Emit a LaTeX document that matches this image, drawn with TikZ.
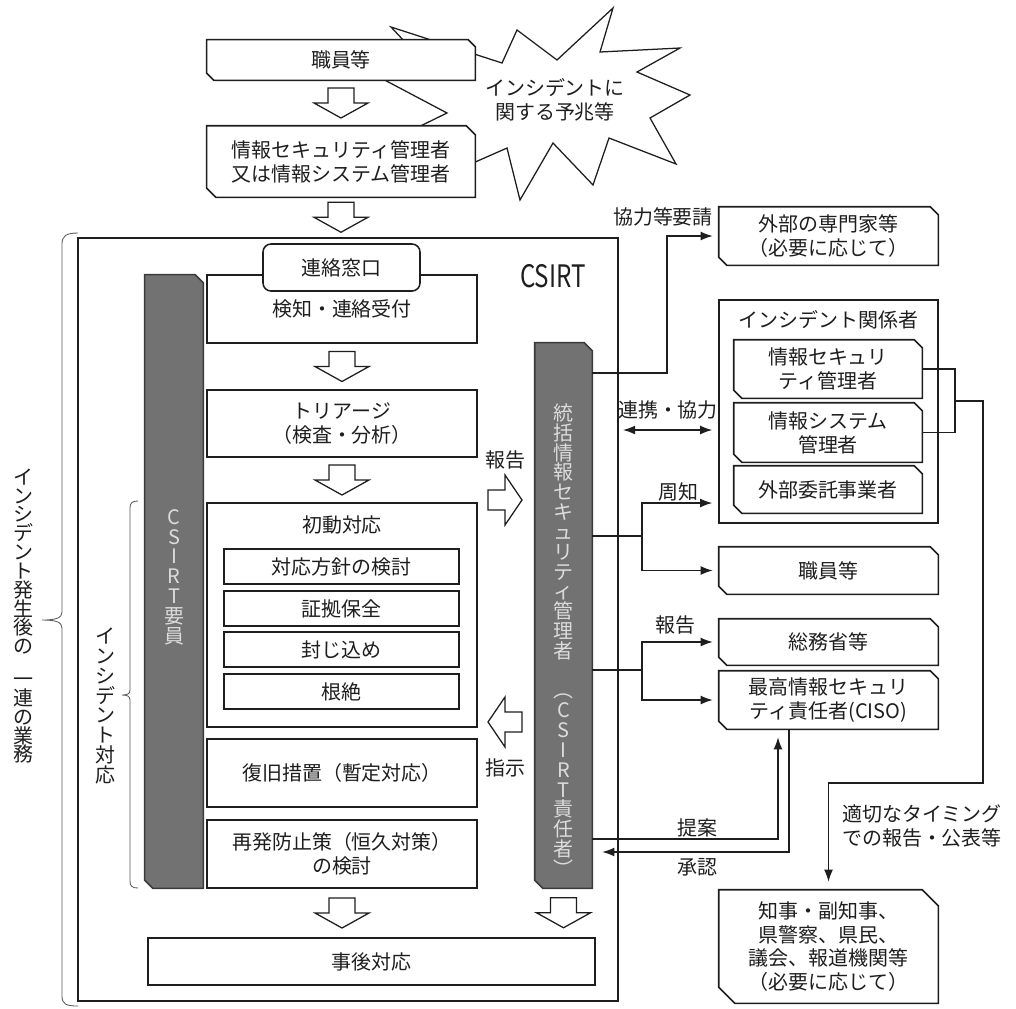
\documentclass[tikz,border=0pt]{standalone}
\usepackage{fontspec}
\setmainfont{Noto Sans CJK JP}
\usepackage{graphicx}
\usetikzlibrary{arrows.meta,calc}
\pgfdeclarelayer{paper}
\pgfdeclarelayer{back}
\pgfdeclarelayer{mid}
\pgfsetlayers{paper,back,mid,main}
\definecolor{barfill}{HTML}{727272}
\definecolor{barline}{HTML}{3A3A3A}
\definecolor{bartext}{HTML}{DCDCDC}
\definecolor{ink}{HTML}{1E1E1E}
\newcommand\chbox[3][fill=white]{%
  \begin{pgfonlayer}{mid}
  \draw[bxline,#1] (#2.north west) -- ([xshift=-#3]#2.north east) -- ([yshift=-#3]#2.north east)
     -- (#2.south east) -- ([xshift=#3]#2.south west) -- ([yshift=#3]#2.south west) -- cycle;
  \end{pgfonlayer}}
\begin{document}
\begin{tikzpicture}[x=0.25mm,y=-0.25mm,
  bxline/.style={draw=ink, line width=1.1pt},
  txt/.style={inner sep=0pt, align=center, text=ink, font=\fontsize{14.2}{17}\selectfont},
  cbox/.style={txt},
  rbox/.style={txt, draw=ink, line width=1.1pt, fill=white},
  vtxt/.style={inner sep=0pt, align=center, font=\fontsize{14.2}{14.1}\selectfont},
  vtxtb/.style={inner sep=0pt, align=center, text=ink, font=\fontsize{14.2}{13.4}\selectfont},
  conn/.style={draw=ink, line width=0.8pt, >={Latex[length=3mm,width=2.2mm]}},
  blk/.style={draw=ink, line width=0.9pt, fill=white, line join=miter},
  brace/.style={draw=black!65, line width=0.6pt},
  dnblk/.pic={\draw[blk] (-13,-15) -- (13,-15) -- (13,0) -- (27,0) -- (0,15) -- (-27,0) -- (-13,0) -- cycle;},
  rtblk/.pic={\draw[blk] (-17,-10) -- (0,-10) -- (0,-25) -- (17,0) -- (0,25) -- (0,10) -- (-17,10) -- cycle;},
  ltblk/.pic={\draw[blk] (17,-10) -- (0,-10) -- (0,-25) -- (-17,0) -- (0,25) -- (0,10) -- (17,10) -- cycle;}
]
\useasboundingbox (0,0) rectangle (1016,1008);
\begin{pgfonlayer}{paper}
\fill[white] (0,0) rectangle (1016,1008);
\end{pgfonlayer}

% starburst
\begin{pgfonlayer}{back}
\draw[bxline, line width=0.9pt, fill=white, line join=miter]
  (391,27) -- (502,63) -- (517,30) -- (557,60) -- (613,8) -- (600,52) -- (680,48) -- (637,72)
  -- (690,95) -- (650,118) -- (676,164) -- (609,138) -- (593,185) -- (553,143) -- (520,200)
  -- (507,148) -- (430,182) -- (465,140) -- (400,136) -- (447,113) -- (360,67) -- (420,58) -- cycle;
\end{pgfonlayer}
\node[txt] (burst) at (555,100) {インシデントに\\関する予兆等};

% top boxes
\node[cbox, minimum width=67mm, minimum height=10mm] (b1) at (341,60) {職員等};
\chbox{b1}{1.75mm}
\node[cbox, minimum width=67mm, minimum height=17.75mm] (b2) at (341,161.5) {情報セキュリティ管理者\\又は情報システム管理者};
\chbox{b2}{2.25mm}
\pic at ($(b1.south)!0.5!(b2.north)$) {dnblk};

% CSIRT frame
\node[draw=ink, line width=1.1pt, inner sep=0pt, minimum width=135mm, minimum height=190.75mm] (csirt) at (348,619.5) {};
\pic at ($(b2.south)!0.5!(b2.south |- csirt.north)$) {dnblk};
\node[txt, font=\fontsize{22}{22}\selectfont] (csirtT) at (553,276) {\scalebox{0.78}[1]{CSIRT}};

% left bar
\node[cbox, minimum width=14.5mm, minimum height=153.25mm] (lbar) at (174,581.5) {};
\chbox[fill=barfill,draw=barline]{lbar}{2mm}
\node[vtxt, text=bartext] (lbarT) at (174,577) {C\\S\\I\\R\\T\\要\\員};

% process column
\node[rbox, minimum width=67.5mm, minimum height=17mm] (kenchi) at (342,309) {検知・連絡受付};
\node[rbox, rounded corners=2mm, minimum width=39.25mm, minimum height=11.75mm] (mado) at (341.5,267.5) {連絡窓口};
\node[rbox, minimum width=67.5mm, minimum height=16.75mm] (tri) at (342,423.5) {トリアージ\\（検査・分析）};
\pic at ($(kenchi.south)!0.5!(tri.north)$) {dnblk};
\node[rbox, minimum width=67.5mm, minimum height=56mm] (shodo) at (342,615) {};
\pic at ($(tri.south)!0.5!(shodo.north)$) {dnblk};
\node[txt] (shodoT) at (342,525) {初動対応};
\node[rbox, minimum width=58.75mm, minimum height=8.75mm] (s1) at (341.5,566.5) {対応方針の検討};
\node[rbox, minimum width=58.75mm, minimum height=8.75mm] (s2) at (341.5,608.5) {証拠保全};
\node[rbox, minimum width=58.75mm, minimum height=8.75mm] (s3) at (341.5,649.5) {封じ込め};
\node[rbox, minimum width=58.75mm, minimum height=8.75mm] (s4) at (341.5,691.5) {根絶};
\node[rbox, minimum width=67.5mm, minimum height=17mm] (fukkyu) at (342,773) {復旧措置（暫定対応）};
\node[rbox, minimum width=67.5mm, minimum height=17mm] (saihatsu) at (342,854) {再発防止策（恒久対策）\\の検討};
\node[rbox, minimum width=111.75mm, minimum height=11.75mm] (jigo) at (371.5,961.5) {事後対応};

% right bar
\node[cbox, minimum width=14.25mm, minimum height=136.25mm] (rbar) at (563.5,615.5) {};
\chbox[fill=barfill,draw=barline]{rbar}{2mm}
\node[vtxt, text=bartext] (rbarT) at (563.5,640) {統\\括\\情\\報\\セ\\キ\\ュ\\リ\\テ\\ィ\\管\\理\\者\\[4.95mm]︵\\C\\S\\I\\R\\T\\責\\任\\者\\︶};

\pic at ($(saihatsu.south)!0.5!(saihatsu.south |- jigo.north)$) {dnblk};
\pic at ($(rbar.south)!0.5!(rbar.south |- jigo.north)$) {dnblk};

% report / instruction block arrows
\node[txt] (lHou) at (505,460) {報告};
\pic at (505,500) {rtblk};
\pic at (505,722) {ltblk};
\node[txt] (lShi) at (505,768) {指示};

% braces
\draw[brace] (78,233) .. controls (66,233) and (62,236) .. (62,244) -- (62,612)
  .. controls (62,618) and (56,620) .. (42,620) .. controls (56,620) and (62,622) .. (62,628)
  -- (62,996) .. controls (62,1004) and (66,1006) .. (78,1006);
\draw[brace] (138,501) .. controls (132,501) and (130,503) .. (130,508) -- (130,690)
  .. controls (130,694) and (127,695) .. (122,695) .. controls (127,695) and (130,696) .. (130,700)
  -- (130,881) .. controls (130,886) and (132,888) .. (138,888);
\node[vtxtb] (outerL) at (23,616) {イ\\ン\\シ\\デ\\ン\\ト\\発\\生\\後\\の\\[3.5mm]一\\連\\の\\業\\務};
\node[vtxt, text=ink] (innerL) at (105,706) {イ\\ン\\シ\\デ\\ン\\ト\\対\\応};

% right column
\node[cbox, minimum width=54.75mm, minimum height=14.5mm] (ext) at (828.5,236) {外部の専門家等\\（必要に応じて）};
\chbox{ext}{2mm}
\node[draw=ink, line width=1.1pt, inner sep=0pt, minimum width=54.75mm, minimum height=55.75mm] (grp) at (828.5,411.5) {};
\node[txt] (grpT) at (828.5,320) {インシデント関係者};
\node[cbox, minimum width=47mm, minimum height=14.5mm] (isec) at (828,369) {情報セキュリ\\ティ管理者};
\chbox{isec}{2mm}
\node[cbox, minimum width=47mm, minimum height=14.75mm] (isys) at (828,432.5) {情報システム\\管理者};
\chbox{isys}{2mm}
\node[cbox, minimum width=47mm, minimum height=11.75mm] (itaku) at (828,489.5) {外部委託事業者};
\chbox{itaku}{2mm}
\node[cbox, minimum width=54.75mm, minimum height=11.75mm] (staff) at (828.5,570.5) {職員等};
\chbox{staff}{2mm}
\node[cbox, minimum width=54.75mm, minimum height=11.5mm] (soumu) at (828.5,642) {総務省等};
\chbox{soumu}{2mm}
\node[cbox, minimum width=54.75mm, minimum height=14.5mm] (ciso) at (828.5,700) {最高情報セキュリ\\ティ責任者(CISO)};
\chbox{ciso}{2mm}
\node[cbox, minimum width=54.75mm, minimum height=28.25mm] (gov) at (828.5,946.5) {知事・副知事、\\県警察、県民、\\議会、報道機関等\\（必要に応じて）};
\chbox{gov}{4mm}

% labels
\node[txt] (lKyo) at (663,217) {協力等要請};
\node[txt] (lRen) at (668,410) {連携・協力};
\node[txt] (lShu) at (678,492) {周知};
\node[txt] (lHou2) at (675,625) {報告};
\node[txt] (lTei) at (697,828) {提案};
\node[txt] (lSho) at (697,867) {承認};
\node[txt] (lTek) at (922,826) {適切なタイミング\\での報告・公表等};

% connectors
\coordinate (kA) at (667,373);
\draw[conn,->,shorten >=1.5mm] (rbar.east |- kA) -- (kA) |- (ext.west);
\coordinate (kB) at (621,430);
\draw[conn,<->,shorten >=1.5mm,shorten <=0.5mm] (kB) -- (kB -| grp.west);
\coordinate (sA) at (642,536);
\coordinate (sB) at (642,503);
\draw[conn] (rbar.east |- sA) -- (sA);
\draw[conn,->,shorten >=1.5mm] (sA) -- (sB) -- (sB -| grp.west);
\draw[conn,->,shorten >=1.5mm] (sA) |- (staff.west);
\coordinate (hA) at (642,670);
\draw[conn] (rbar.east |- hA) -- (hA);
\draw[conn,->,shorten >=1.5mm] (hA) |- (soumu.west);
\draw[conn,->,shorten >=1.5mm] (hA) |- (ciso.west);
\coordinate (tA) at (778,839);
\draw[conn,->,shorten >=2mm] (rbar.east |- tA) -- (tA) -- (tA |- ciso.south);
\coordinate (tB) at (789,852);
\draw[conn,->,shorten >=2.5mm] (tB |- ciso.south) -- (tB) -- (rbar.east |- tB);
\coordinate (bX) at (955,401);
\coordinate (bY) at (983,783);
\draw[conn] (isec.east) -- (isec.east -| bX) -- (isys.east -| bX) -- (isys.east);
\draw[conn,->,shorten >=2mm] (bX) -- (bX -| bY) -- (bY) -- (bY -| gov.north) -- (gov.north);
\end{tikzpicture}
\end{document}
